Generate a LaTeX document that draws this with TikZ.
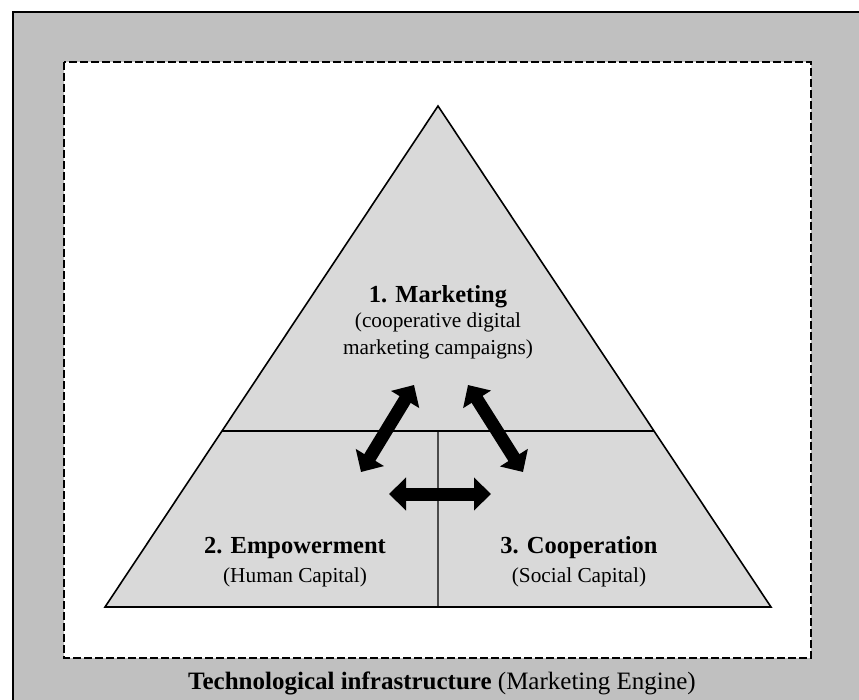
\documentclass[tikz,border=0pt]{standalone}
\usepackage{fontspec}
\setmainfont{Liberation Serif}
\usetikzlibrary{arrows.meta, calc, positioning}

\definecolor{outergray}{HTML}{C0C0C0}
\definecolor{pyrgray}{HTML}{D9D9D9}

\tikzset{
    head/.style={font=\bfseries\fontsize{24.5}{28}\selectfont, inner sep=0pt},
    sub/.style={font=\fontsize{21.3}{27}\selectfont, align=center, inner sep=0pt},
    fat/.style={line width=13pt, {Triangle[length=17pt,width=32pt]}-{Triangle[length=17pt,width=32pt]}},
}

\begin{document}
\begin{tikzpicture}[x=1pt, y=-1pt]
            \useasboundingbox (0,0) rectangle (859,700);
            \clip (0,0) rectangle (859,700);

            % outer band and dashed frame
            \draw[line width=2.2pt, fill=outergray] (13,12) rectangle (880,720);
            \draw[line width=2.8pt, dash pattern=on 8pt off 3pt, fill=white] (64,62) rectangle (811,658);

            % pyramid
            \coordinate (apex) at (438,106);
            \coordinate (bl) at (105,607);
            \coordinate (br) at (771,607);
            \coordinate (ml) at ($(apex)!0.6487!(bl)$);
            \coordinate (mr) at ($(apex)!0.6487!(br)$);
            \coordinate (mm) at ($(ml)!0.5!(mr)$);
            \coordinate (bm) at ($(bl)!0.5!(br)$);

            \draw[line width=1.6pt, fill=pyrgray, line join=miter] (apex) -- (bl) -- (br) -- cycle;
            \draw[line width=1.4pt] (ml) -- (mr);
            \draw[line width=1.4pt] (mm) -- (bm);

            % labels (a two-line node sits on its last baseline)
            \node[head, anchor=base] (mkt) at (438,303) {1. Marketing};
            \node[sub, anchor=base] (mktsub) at (438,355) {(cooperative digital\\marketing campaigns)};
            \node[head, anchor=base] (emp) at (295,553) {2. Empowerment};
            \node[sub, anchor=base] (empsub) at (295,582) {(Human Capital)};
            \node[head, anchor=base] (coop) at (579,553) {3. Cooperation};
            \node[sub, anchor=base] (coopsub) at (579,582) {(Social Capital)};
            \node[anchor=base, inner sep=0pt, font=\fontsize{25}{28}\selectfont] (tech) at (442,689)
                {\textbf{Technological infrastructure} (Marketing Engine)};

            % arrows between the three parts
            \coordinate (a1) at (414,385);
            \coordinate (a2) at (361,472);
            \coordinate (b1) at (468,385);
            \coordinate (b2) at (523,472);
            \coordinate (c1) at (389,494);
            \coordinate (c2) at (491,494);
            \draw[fat] (a1) -- (a2);
            \draw[fat] (b1) -- (b2);
            \draw[fat] (c1) -- (c2);

        \end{tikzpicture}
\end{document}
